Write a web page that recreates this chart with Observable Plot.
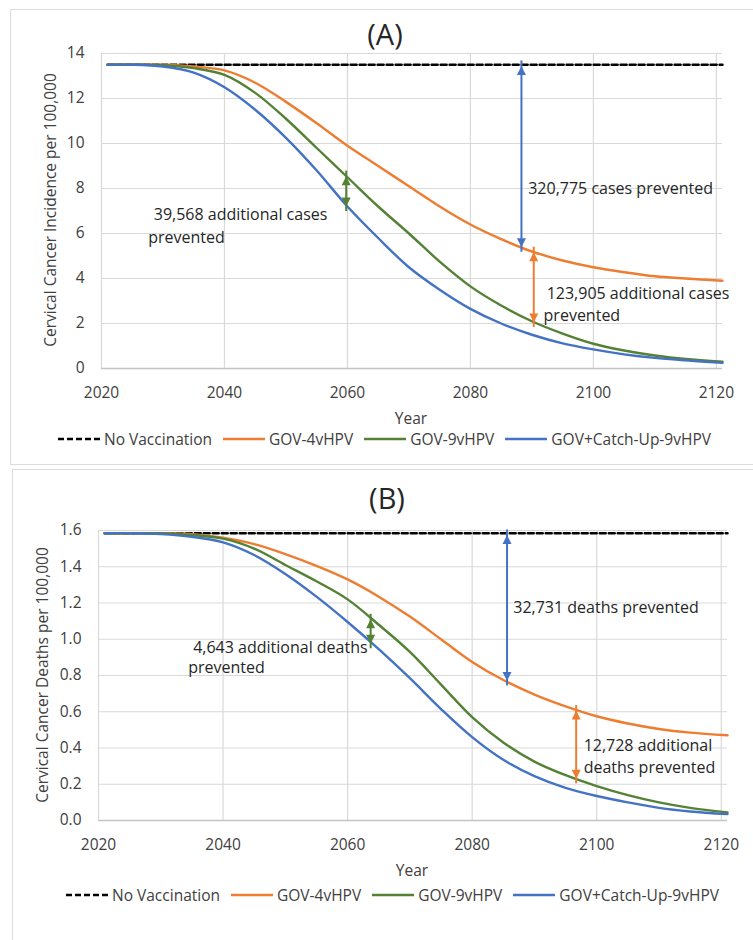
<!DOCTYPE html>
<html><head><meta charset="utf-8">
<script src="https://cdn.jsdelivr.net/npm/d3@7"></script>
<script src="https://cdn.jsdelivr.net/npm/@observablehq/plot@0.6"></script>
<style>
body{margin:0;background:#fff;font-family:"Open Sans",sans-serif;}
#root{position:relative;width:753px;height:940px;overflow:hidden;background:#fff;}
.panel{position:absolute;border:1.5px solid #dcdcdc;box-sizing:border-box;}
.abs{position:absolute;}
.title{font-size:29px;color:#262626;transform:translate(-50%,-50%);white-space:nowrap;}
.xlab{font-size:15.5px;color:#404040;transform:translate(-50%,-50%);white-space:nowrap;}
.ylab{font-size:15.5px;color:#404040;transform:translate(-50%,-50%) rotate(-90deg);white-space:nowrap;}
.legend{display:flex;align-items:center;font-size:15.5px;color:#404040;white-space:nowrap;transform:translateY(-50%);}
.legend svg{display:block;}
.legend span{margin-left:4px;margin-right:11px;}
</style>
</head><body><div id="root"></div>
<script>
// ---------- data ----------
const years = [2021,2025,2030,2035,2040,2045,2050,2055,2060,2065,2070,2075,2080,2085,2090,2095,2100,2105,2110,2115,2121];
const seriesNames = ["No Vaccination","GOV-4vHPV","GOV-9vHPV","GOV+Catch-Up-9vHPV"];
const seriesColors = ["#000000","#ED7D31","#548235","#4472C4"];
const xTicks = [2020,2040,2060,2080,2100,2120];

// Panel A: incidence per 100,000
const incNoVacc = [13.5,13.5,13.5,13.5,13.5,13.5,13.5,13.5,13.5,13.5,13.5,13.5,13.5,13.5,13.5,13.5,13.5,13.5,13.5,13.5,13.5];
const incGov4   = [13.5,13.5,13.5,13.42,13.25,12.7,11.85,10.9,9.9,9.0,8.1,7.2,6.4,5.75,5.2,4.8,4.5,4.28,4.1,4.0,3.9];
const incGov9   = [13.5,13.5,13.48,13.35,13.05,12.25,11.1,9.8,8.5,7.2,6.0,4.75,3.65,2.8,2.1,1.55,1.1,0.8,0.58,0.42,0.3];
const incCatch  = [13.5,13.5,13.42,13.15,12.5,11.5,10.25,8.8,7.2,5.8,4.5,3.5,2.65,2.0,1.5,1.12,0.85,0.63,0.47,0.36,0.25];
const incYTicks = [0,2,4,6,8,10,12,14];
const incArrowYear = [2059.8, 2088.3, 2090.3];
const incArrowHi   = [8.55, 13.45, 5.17];
const incArrowLo   = [7.2, 5.39, 2.05];
const incArrowSeries = [2, 3, 1];
const incNoteText = ["320,775 cases prevented","39,568 additional cases","prevented","123,905 additional cases","prevented"];
const incNoteYear = [2089.4, 2028.5, 2027.6, 2092.4, 2091.9];
const incNoteValue = [8.0, 6.84, 5.82, 3.33, 2.36];

// Panel B: deaths per 100,000
const deathNoVacc = [1.585,1.585,1.585,1.585,1.585,1.585,1.585,1.585,1.585,1.585,1.585,1.585,1.585,1.585,1.585,1.585,1.585,1.585,1.585,1.585,1.585];
const deathGov4   = [1.585,1.585,1.585,1.58,1.56,1.525,1.47,1.405,1.33,1.235,1.125,1.0,0.875,0.775,0.695,0.63,0.575,0.535,0.505,0.485,0.47];
const deathGov9   = [1.585,1.585,1.585,1.575,1.555,1.50,1.41,1.32,1.22,1.08,0.93,0.75,0.57,0.43,0.325,0.25,0.19,0.14,0.10,0.07,0.045];
const deathCatch  = [1.585,1.585,1.58,1.565,1.535,1.465,1.36,1.235,1.095,0.945,0.785,0.615,0.46,0.335,0.245,0.18,0.135,0.10,0.07,0.05,0.035];
const deathYTicks = [0,0.2,0.4,0.6,0.8,1.0,1.2,1.4,1.6];
const deathArrowYear = [2063.7, 2085.6, 2096.7];
const deathArrowHi   = [1.11, 1.575, 0.607];
const deathArrowLo   = [0.975, 0.77, 0.23];
const deathArrowSeries = [2, 3, 1];
const deathNoteText = ["32,731 deaths prevented","4,643 additional deaths","prevented","12,728 additional","deaths prevented"];
const deathNoteYear = [2086.6, 2035.2, 2034.4, 2097.9, 2097.9];
const deathNoteValue = [1.175, 0.955, 0.84, 0.414, 0.29];

// ---------- helpers ----------
const triUp = {draw(ctx){ctx.moveTo(0,0);ctx.lineTo(-4.5,9);ctx.lineTo(4.5,9);ctx.closePath();}};
const triDown = {draw(ctx){ctx.moveTo(0,0);ctx.lineTo(-4.5,-9);ctx.lineTo(4.5,-9);ctx.closePath();}};

function makePlot(cfg){
  const seriesData = cfg.series.map(vals => years.map((yr,i)=>({year:yr, value:vals[i]})));
  const marks = [
    Plot.gridX(xTicks, {stroke:"#d9d9d9", strokeOpacity:1, strokeWidth:1.2}),
    Plot.gridY(cfg.yTicks, {stroke:"#d9d9d9", strokeOpacity:1, strokeWidth:1.2}),
    Plot.ruleY([0], {stroke:"#c4c4c4", strokeWidth:1.3}),
    Plot.axisX(xTicks, {tickSize:0, tickPadding:18, tickFormat:d=>String(d), label:null}),
    Plot.axisY(cfg.yTicks, {tickSize:0, tickPadding:17, tickFormat:cfg.yFormat, label:null}),
    Plot.line(seriesData[0], {x:"year", y:"value", stroke:seriesColors[0], strokeWidth:2.5, strokeDasharray:"6,3"})
  ];
  for (let s=1; s<4; s++) {
    marks.push(Plot.line(seriesData[s], {x:"year", y:"value", stroke:seriesColors[s], strokeWidth:2.4, curve:"catmull-rom"}));
  }
  cfg.arrowYear.forEach((yr,i)=>{
    const a = [{year:yr, hi:cfg.arrowHi[i], lo:cfg.arrowLo[i]}];
    const c = seriesColors[cfg.arrowSeries[i]];
    marks.push(Plot.ruleX(a, {x:"year", y1:"lo", y2:"hi", stroke:c, strokeWidth:2, insetTop:5, insetBottom:5}));
    marks.push(Plot.dot(a, {x:"year", y:"hi", symbol:triUp, fill:c, stroke:"none", r:4}));
    marks.push(Plot.dot(a, {x:"year", y:"lo", symbol:triDown, fill:c, stroke:"none", r:4}));
  });
  const notes = cfg.noteText.map((t,i)=>({label:t, year:cfg.noteYear[i], value:cfg.noteValue[i]}));
  marks.push(Plot.text(notes, {x:"year", y:"value", text:"label", textAnchor:"start", fontSize:16, fill:"#262626"}));
  return Plot.plot({
    width:753, height:cfg.height,
    marginTop:cfg.mt, marginBottom:cfg.mb, marginLeft:cfg.ml, marginRight:cfg.mr,
    x:{domain:[2020,2121]}, y:{domain:cfg.yDomain},
    style:{fontFamily:"Open Sans, sans-serif", fontSize:"15.5px", color:"#404040", background:"transparent", overflow:"visible"},
    marks
  });
}

function addEl(parent, cls, text, left, top){
  const d = document.createElement("div");
  d.className = "abs " + cls;
  d.textContent = text;
  d.style.left = left + "px"; d.style.top = top + "px";
  parent.appendChild(d); return d;
}
function addLegend(parent, left, top){
  const d = document.createElement("div");
  d.className = "abs legend";
  d.style.left = left+"px"; d.style.top = top+"px";
  seriesNames.forEach((n,i)=>{
    const ns="http://www.w3.org/2000/svg";
    const sv=document.createElementNS(ns,"svg"); sv.setAttribute("width","42"); sv.setAttribute("height","6");
    const l=document.createElementNS(ns,"line");
    l.setAttribute("x1","0");l.setAttribute("x2","42");l.setAttribute("y1","3");l.setAttribute("y2","3");
    l.setAttribute("stroke",seriesColors[i]); l.setAttribute("stroke-width","2.6");
    if(i===0) l.setAttribute("stroke-dasharray","6,3");
    sv.appendChild(l); d.appendChild(sv);
    const sp=document.createElement("span"); sp.textContent=n; d.appendChild(sp);
  });
  parent.appendChild(d);
}

const root = document.getElementById("root");
// Panel borders
const pA = document.createElement("div"); pA.className="panel";
Object.assign(pA.style,{left:"10px",top:"9px",width:"760px",height:"456px"}); root.appendChild(pA);
const pB = document.createElement("div"); pB.className="panel";
Object.assign(pB.style,{left:"12px",top:"469px",width:"760px",height:"490px"}); root.appendChild(pB);

// Panel A
const svgA = makePlot({series:[incNoVacc,incGov4,incGov9,incCatch], yTicks:incYTicks, yDomain:[0,14], yFormat:d=>String(d),
  arrowYear:incArrowYear, arrowHi:incArrowHi, arrowLo:incArrowLo, arrowSeries:incArrowSeries,
  noteText:incNoteText, noteYear:incNoteYear, noteValue:incNoteValue,
  height:410, mt:53, mb:42, ml:101, mr:31});
svgA.style.position="absolute"; svgA.style.left="0px"; svgA.style.top="0px";
root.appendChild(svgA);
addEl(root,"title","(A)",385,33);
addEl(root,"xlab","Year",411,418);
addEl(root,"ylab","Cervical Cancer Incidence per 100,000",50,210);
addLegend(root,58,439);

// Panel B
const svgB = makePlot({series:[deathNoVacc,deathGov4,deathGov9,deathCatch], yTicks:deathYTicks, yDomain:[0,1.6], yFormat:d3.format(".1f"),
  arrowYear:deathArrowYear, arrowHi:deathArrowHi, arrowLo:deathArrowLo, arrowSeries:deathArrowSeries,
  noteText:deathNoteText, noteYear:deathNoteYear, noteValue:deathNoteValue,
  height:400, mt:70, mb:40, ml:98, mr:26});
svgB.style.position="absolute"; svgB.style.left="0px"; svgB.style.top="460px";
root.appendChild(svgB);
addEl(root,"title","(B)",387,497);
addEl(root,"xlab","Year",412,870);
addEl(root,"ylab","Cervical Cancer Deaths per 100,000",42,675);
addLegend(root,66,895);
</script>
</body></html>
